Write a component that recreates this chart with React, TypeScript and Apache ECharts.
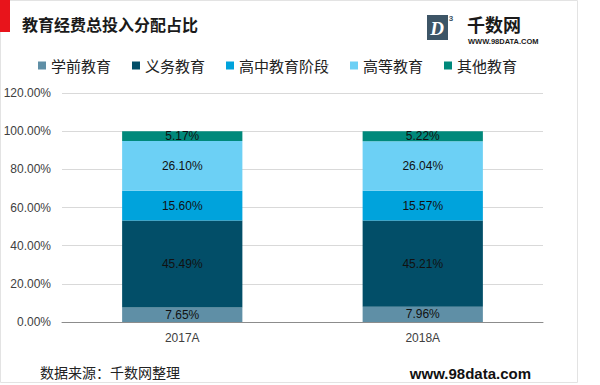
import React, { useEffect, useRef } from "react";
import * as echarts from "echarts";

const categories = ["2017A", "2018A"];
const seriesNames = ["学前教育", "义务教育", "高中教育阶段", "高等教育", "其他教育"];
const preschool = [7.65, 7.96];
const compulsory = [45.49, 45.21];
const highSchool = [15.6, 15.57];
const higher = [26.1, 26.04];
const other = [5.17, 5.22];
const seriesColors = ["#5f8fa6", "#024e68", "#00a3dc", "#6cd0f5", "#00897b"];
const yTicks = { min: 0, max: 120, interval: 20 };

const titleText = "教育经费总投入分配占比";
const sourceText = "数据来源：千数网整理";
const siteText = "www.98data.com";

export default function App() {
  const ref = useRef<HTMLDivElement>(null);
  useEffect(() => {
    document.body.style.margin = "0";
    if (!ref.current) return;
    const chart = echarts.init(ref.current, undefined, { renderer: "svg" });
    const values = [preschool, compulsory, highSchool, higher, other];
    const cjk = "'Noto Sans CJK SC', sans-serif";
    const latin = "'Liberation Sans', Arial, sans-serif";
    chart.setOption({
      animation: false,
      backgroundColor: "#ffffff",
      legend: {
        data: seriesNames,
        left: 33,
        top: 53,
        itemWidth: 8,
        itemHeight: 8,
        itemGap: 21,
        icon: "rect",
        textStyle: { fontSize: 15, color: "#222", fontFamily: cjk },
      },
      grid: { left: 62, right: 57, top: 93, bottom: 63, containLabel: false },
      xAxis: {
        type: "category",
        data: categories,
        axisLine: { lineStyle: { color: "#8c8c8c", width: 1 } },
        axisTick: { show: false },
        axisLabel: { fontSize: 12, color: "#404040", fontFamily: latin, margin: 10 },
      },
      yAxis: {
        type: "value",
        min: yTicks.min,
        max: yTicks.max,
        interval: yTicks.interval,
        axisLine: { show: false },
        axisTick: { show: false },
        splitLine: { lineStyle: { color: "#d9d9d9", width: 1 } },
        axisLabel: {
          fontSize: 12,
          color: "#404040",
          fontFamily: latin,
          margin: 11,
          formatter: (v: number) => v.toFixed(2) + "%",
        },
      },
      series: seriesNames.map((name, i) => ({
        name,
        type: "bar",
        stack: "total",
        barWidth: "50%",
        data: values[i],
        itemStyle: { color: seriesColors[i] },
        label: {
          show: true,
          position: "inside",
          fontSize: 12,
          color: "#111",
          fontFamily: latin,
          formatter: (p: any) => Number(p.value).toFixed(2) + "%",
        },
      })),
      graphic: [
        {
          type: "rect",
          shape: { x: 0.5, y: 0.5, width: 577, height: 382 },
          style: { fill: "none", stroke: "#e3e3e3", lineWidth: 1 },
          silent: true,
        },
        {
          type: "rect",
          shape: { x: 0, y: 0, width: 10, height: 32 },
          style: { fill: "#e8141b" },
        },
        {
          type: "text",
          x: 22,
          y: 24,
          style: {
            text: titleText,
            font: "bold 16px 'Noto Sans CJK SC', sans-serif",
            fill: "#1a1a1a",
            textVerticalAlign: "middle",
          },
        },
        {
          type: "rect",
          shape: { x: 427, y: 15, width: 21, height: 25 },
          style: { fill: "#3d5566" },
        },
        {
          type: "text",
          x: 437,
          y: 28,
          style: {
            text: "D",
            font: "italic bold 19px 'Liberation Serif', serif",
            fill: "#ffffff",
            textAlign: "center",
            textVerticalAlign: "middle",
          },
        },
        {
          type: "text",
          x: 451,
          y: 18,
          style: {
            text: "3",
            font: "bold 8px 'Liberation Sans', sans-serif",
            fill: "#3d5566",
            textAlign: "center",
            textVerticalAlign: "middle",
          },
        },
        {
          type: "text",
          x: 467,
          y: 24,
          style: {
            text: "千数网",
            font: "bold 18px 'Noto Sans CJK SC', sans-serif",
            fill: "#1a1a1a",
            textVerticalAlign: "middle",
          },
        },
        {
          type: "text",
          x: 468,
          y: 41,
          style: {
            text: "WWW.98DATA.COM",
            font: "bold 7.5px 'Liberation Sans', sans-serif",
            fill: "#1a1a1a",
            textVerticalAlign: "middle",
          },
        },
        {
          type: "text",
          x: 40,
          y: 372,
          style: {
            text: sourceText,
            font: "14px 'Noto Sans CJK SC', sans-serif",
            fill: "#222",
            textVerticalAlign: "middle",
          },
        },
        {
          type: "text",
          x: 531,
          y: 373,
          style: {
            text: siteText,
            font: "bold 15px 'Liberation Sans', sans-serif",
            fill: "#111",
            textAlign: "right",
            textVerticalAlign: "middle",
          },
        },
      ],
    });
    return () => chart.dispose();
  }, []);
  return <div ref={ref} style={{ width: 600, height: 385 }} />;
}
